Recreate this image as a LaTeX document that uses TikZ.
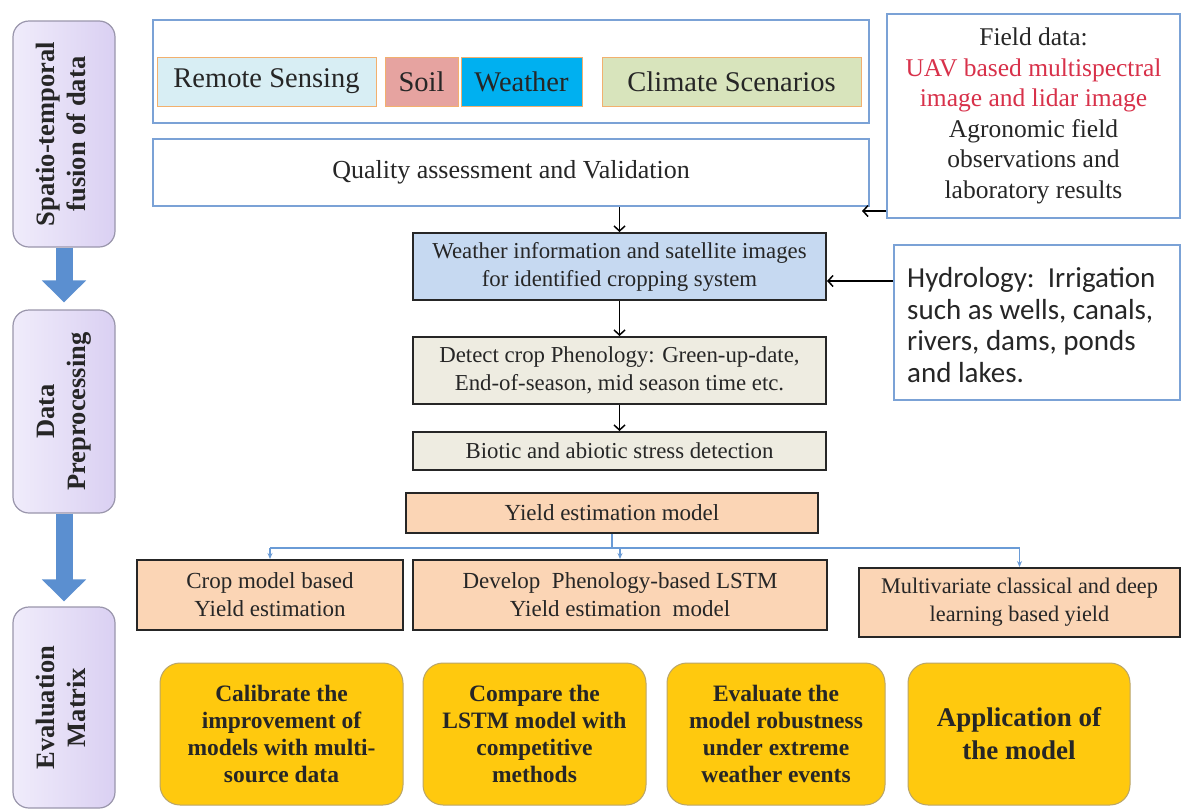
\documentclass[tikz,border=0pt]{standalone}
\usepackage{fontspec}
\setmainfont{Liberation Serif}
\newfontfamily\calibri{Carlito}
\usetikzlibrary{arrows.meta}

\definecolor{frameblue}{HTML}{7BA2D6}
\definecolor{txt}{HTML}{262626}
\definecolor{pillleft}{HTML}{F0ECFB}
\definecolor{pillright}{HTML}{DAD0F2}
\definecolor{pillline}{HTML}{9A96AC}
\definecolor{bigblue}{HTML}{5B8FD0}
\definecolor{rsfill}{HTML}{D8EEF4}
\definecolor{soilfill}{HTML}{E6A3A0}
\definecolor{wxfill}{HTML}{00B0F0}
\definecolor{climfill}{HTML}{D8E4BC}
\definecolor{tagline}{HTML}{F2B06E}
\definecolor{infofill}{HTML}{C6D9F1}
\definecolor{tanfill}{HTML}{EEECE1}
\definecolor{peach}{HTML}{FBD5B5}
\definecolor{gold}{HTML}{FFC90E}
\definecolor{goldline}{HTML}{B9A56A}
\definecolor{uavred}{HTML}{D8314A}
\definecolor{busblue}{HTML}{6A9BD6}

\tikzset{
  pill/.style={draw=pillline, left color=pillleft, right color=pillright, line width=1.2pt,
    rounded corners=16pt, minimum width=102pt, inner sep=0pt, text=txt,
    font=\fontsize{26.5}{31}\selectfont\bfseries},
  bigarrow/.style={draw=bigblue, line width=17pt, -{Triangle[width=43pt,length=22pt]}},
  frame/.style={draw=frameblue, line width=2pt, fill=white, inner sep=0pt, text=txt},
  tag/.style={draw=tagline, line width=1pt, inner sep=0pt, minimum height=49pt, text=txt,
    font=\fontsize{28.5}{32}\selectfont},
  stepbox/.style={draw=black!85, line width=2pt, inner sep=0pt, text=txt, align=center,
    font=\fontsize{22.8}{28}\selectfont},
  goldbox/.style={draw=goldline, fill=gold, line width=1pt, rounded corners=20pt,
    inner sep=0pt, minimum height=142pt, text=txt, align=center,
    font=\fontsize{23.5}{27}\selectfont\bfseries},
  thinarrow/.style={draw=black, line width=1.5pt, -{Straight Barb[length=5pt,width=11pt]}},
  bus/.style={draw=busblue, line width=1.3pt},
  busarrow/.style={bus, -{Stealth[length=6pt,width=5pt]}},
}

\newcommand{\vtext}[1]{\rotatebox{90}{\begin{tabular}{@{}c@{}}#1\end{tabular}}}

\begin{document}
\begin{tikzpicture}[x=1pt,y=-1pt]
\useasboundingbox (0,0) rectangle (1183,809);
\fill[white] (0,0) rectangle (1183,809);

% ---- stage column ----
\node[pill, minimum height=226pt] (p1) at (64,134)
  {\vtext{Spatio-temporal\\fusion of data}};
\node[pill, minimum height=203pt] (p2) at (64,411.5)
  {\vtext{Data\\Preprocessing}};
\node[pill, minimum height=201pt] (p3) at (64,707.5)
  {\vtext{Evaluation\\Matrix}};
\draw[bigarrow, shorten >=7pt] (p1.south) -- (p2.north);
\draw[bigarrow, shorten >=5pt] (p2.south) -- (p3.north);

% ---- data sources ----
\node[frame, minimum width=716pt, minimum height=103pt] (src) at (511,71.5) {};
\node[tag, fill=rsfill, minimum width=219pt] (rs) at (266.5,81.5) {Remote Sensing};
\node[tag, fill=soilfill, minimum width=73pt] (soil) at (421.5,81.5) {Soil};
\node[tag, fill=wxfill, minimum width=121pt] (wx) at (521.5,81.5) {Weather};
\node[tag, fill=climfill, minimum width=259pt] (clim) at (731.5,81.5) {Climate Scenarios};

\node[frame, minimum width=716pt, minimum height=67pt,
  font=\fontsize{26}{30}\selectfont] (qa) at (511,172.5) {\raisebox{7pt}{Quality assessment and Validation}};

\node[frame, minimum width=293pt, minimum height=204pt, align=center,
  font=\fontsize{25.5}{30.5}\selectfont] (field) at (1033.5,116)
  {Field data:\\
   \textcolor{uavred}{UAV based multispectral}\\
   \textcolor{uavred}{image and lidar image}\\
   Agronomic field\\
   observations and\\
   laboratory results};
\coordinate (qtip) at (862,211);
\draw[thinarrow] (field.west |- qtip) -- (qtip);

% ---- processing chain ----
\node[stepbox, fill=infofill, minimum width=413pt, minimum height=67pt] (info) at (619.5,266.5)
  {Weather information and satellite images\\for identified cropping system};
\node[stepbox, fill=tanfill, minimum width=413pt, minimum height=67pt] (phen) at (619.5,370.5)
  {Detect crop Phenology: Green-up-date,\\End-of-season, mid season time etc.};
\node[stepbox, fill=tanfill, minimum width=413pt, minimum height=38pt] (stress) at (619.5,451)
  {Biotic and abiotic stress detection};

\draw[thinarrow] (qa.south -| info.north) -- (info.north);
\draw[thinarrow] (info.south) -- (phen.north);
\draw[thinarrow] (phen.south) -- (stress.north);

\node[frame, minimum width=286pt, minimum height=155pt] (hydro) at (1037,322.5) {};
\node[anchor=west, align=left, inner sep=0pt, text=txt,
  font=\calibri\fontsize{29}{31.7}\selectfont] (hydrotext) at (907,325)
  {Hydrology:\ \ Irrigation\\such as wells, canals,\\rivers, dams, ponds\\and lakes.};
\draw[thinarrow] (hydro.west |- 0,281) -- (info.east |- 0,281);

% ---- yield models ----
\node[stepbox, fill=peach, minimum width=412pt, minimum height=40pt,
  font=\fontsize{23}{28}\selectfont] (yield) at (612,513) {Yield estimation model};
\node[stepbox, fill=peach, minimum width=266pt, minimum height=70pt,
  font=\fontsize{23}{28}\selectfont] (crop) at (270,595) {Crop model based\\Yield estimation};
\node[stepbox, fill=peach, minimum width=414pt, minimum height=70pt,
  font=\fontsize{23}{28}\selectfont] (lstm) at (620,595) {Develop\ \ Phenology-based LSTM\\Yield estimation\ \ model};
\node[stepbox, fill=peach, minimum width=321pt, minimum height=69pt,
  font=\fontsize{22.3}{28}\selectfont] (multi) at (1019.5,602.5) {Multivariate classical and deep\\learning based yield};

\coordinate (split) at (612,548);
\draw[bus] (yield.south) -- (split);
\draw[bus] (crop.north |- split) -- (multi.north |- split);
\draw[busarrow] (crop.north |- split) -- (crop.north);
\draw[busarrow] (lstm.north |- split) -- (lstm.north);
\draw[busarrow] (multi.north |- split) -- (multi.north);

% ---- evaluation ----
\node[goldbox, minimum width=243pt] (e1) at (281.5,734)
  {Calibrate the\\improvement of\\models with multi-\\source data};
\node[goldbox, minimum width=223pt] (e2) at (534.5,734)
  {Compare the\\LSTM model with\\competitive\\methods};
\node[goldbox, minimum width=218pt] (e3) at (776,734)
  {Evaluate the\\model robustness\\under extreme\\weather events};
\node[goldbox, minimum width=222pt, font=\fontsize{27}{33}\selectfont\bfseries] (e4) at (1019,734)
  {Application of\\the model};
\end{tikzpicture}
\end{document}
